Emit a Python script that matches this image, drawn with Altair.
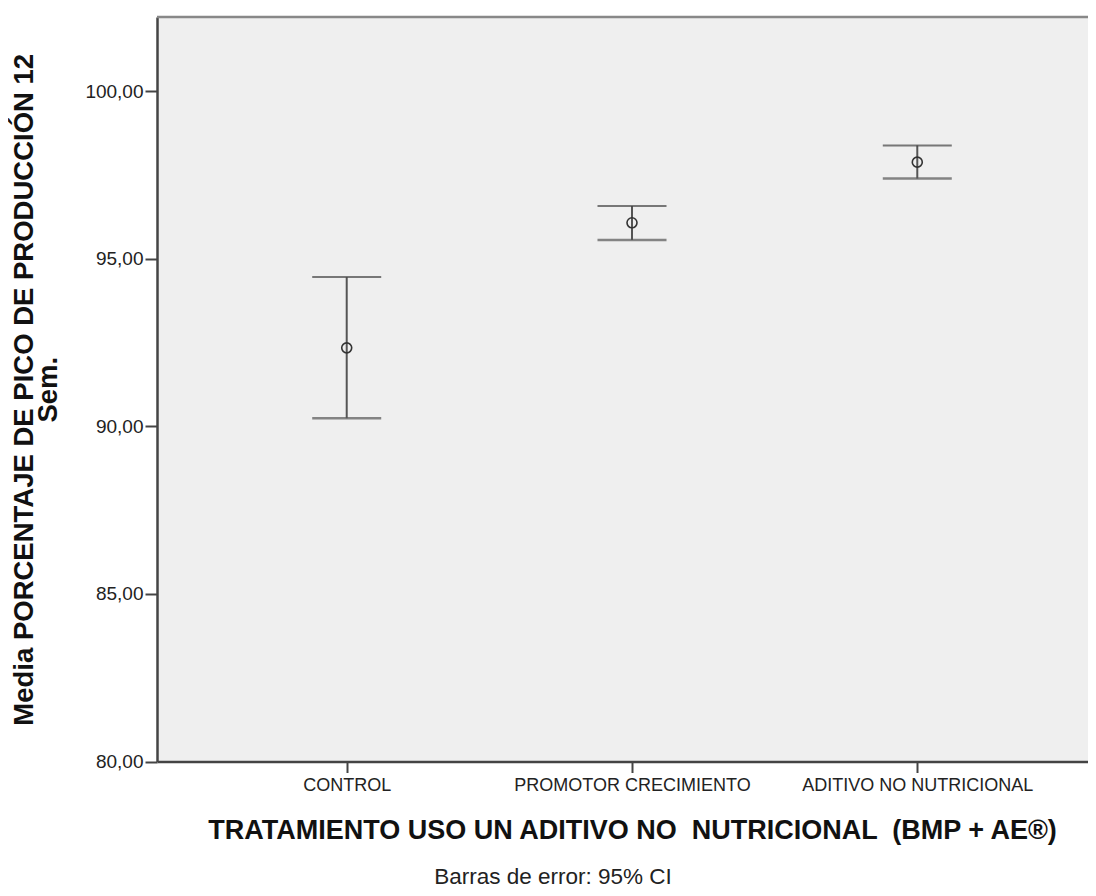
import altair as alt
import pandas as pd

categories = ["CONTROL", "PROMOTOR CRECIMIENTO", "ADITIVO NO NUTRICIONAL"]
means = [92.34, 96.07, 97.88]
lower = [90.24, 95.56, 97.39]
upper = [94.45, 96.57, 98.38]
y_ticks = [80, 85, 90, 95, 100]

df = pd.DataFrame({"cat": categories, "mean": means, "lo": lower, "hi": upper})

FONT = "Liberation Sans"
W, H = 931, 744.5
NB = "\u00a0"

xscale = alt.Scale(type="point", range=[0, 950], padding=0.665)
x = alt.X(
    "cat:N",
    sort=categories,
    scale=xscale,
    axis=alt.Axis(
        title=f"TRATAMIENTO USO UN ADITIVO NO {NB}NUTRICIONAL {NB}(BMP + AE®)",
        labelAngle=0, labelFont=FONT, labelFontSize=18, labelColor="#222",
        labelPadding=4, labelLimit=0, tickSize=11, tickColor="#444", tickWidth=2,
        domainColor="#444", domainWidth=2.5,
        titleFont=FONT, titleFontSize=27, titleFontWeight="bold", titleColor="#111",
        titleX=475, titleY=77, titleBaseline="alphabetic", titleAlign="center",
        grid=False,
    ),
)
yscale = alt.Scale(domain=[80, 102.21], nice=False, zero=False)
yaxis = alt.Axis(
    title=["Media PORCENTAJE DE PICO DE PRODUCCIÓN 12", "Sem."],
    values=y_ticks,
    labelExpr="replace(format(datum.value, '.2f'), '.', ',')",
    labelFont=FONT, labelFontSize=19, labelColor="#222", labelPadding=2,
    tickSize=12, tickColor="#444", tickWidth=2,
    domainColor="#444", domainWidth=2.5,
    titleFont=FONT, titleFontSize=27.5, titleFontWeight="bold", titleColor="#111",
    titleAngle=270, titleX=-125, titleY=H / 2, titleBaseline="alphabetic",
    titleAlign="center", titleLineHeight=24,
    grid=False,
)

base = alt.Chart(df)

stem = base.mark_rule(color="#555", strokeWidth=2).encode(
    x=x, y=alt.Y("lo:Q", scale=yscale, axis=yaxis), y2="hi:Q"
)
cap_hi = base.mark_tick(color="#444", thickness=2, size=69, orient="horizontal").encode(
    x=x, y=alt.Y("hi:Q", scale=yscale)
)
cap_lo = base.mark_tick(color="#555", thickness=2.5, size=69, orient="horizontal").encode(
    x=x, y=alt.Y("lo:Q", scale=yscale)
)
pts = base.mark_point(shape="circle", size=100, filled=False, color="#333",
                      strokeWidth=1.6, opacity=1).encode(
    x=x, y=alt.Y("mean:Q", scale=yscale)
)
top_border = alt.Chart().mark_rule(color="#888", strokeWidth=2.5).encode(
    x=alt.value(0), x2=alt.value(W), y=alt.value(0)
)
note = alt.Chart(pd.DataFrame({"t": ["Barras de error: 95% CI"]})).mark_text(
    font=FONT, fontSize=22.5, color="#222", align="center", baseline="alphabetic"
).encode(text="t:N", x=alt.value(396), y=alt.value(867))

chart = alt.layer(stem, cap_hi, cap_lo, pts, top_border, note).properties(
    width=W, height=H,
    autosize=alt.AutoSizeParams(type="none"),
    padding={"left": 149, "top": 9, "right": 0, "bottom": 126},
    background="white",
).configure_view(
    fill="#EFEFEF", stroke=None
)

chart.save("out.html", embed_options={"renderer": "svg", "actions": False})
